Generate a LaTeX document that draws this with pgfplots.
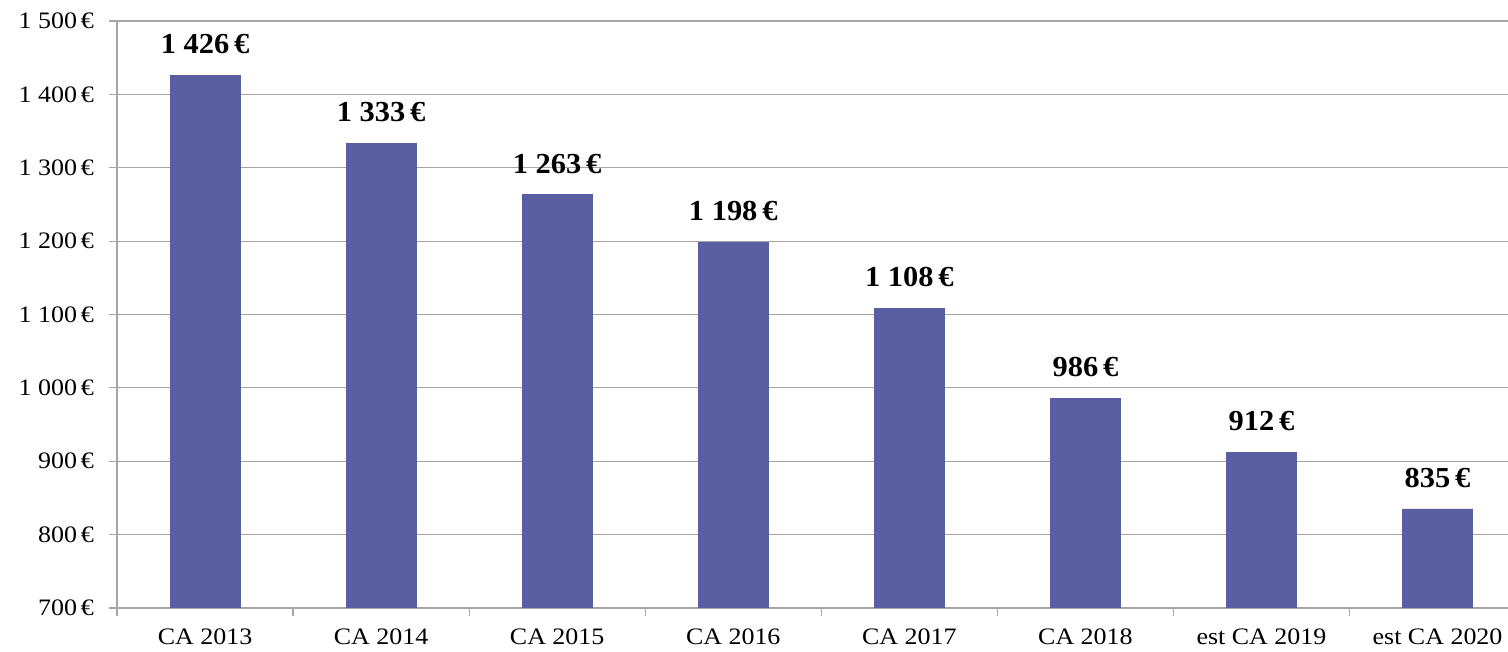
\documentclass[border=0pt]{standalone}
\usepackage{fontspec}
\setmainfont{Liberation Serif}
\newfontfamily\tickfont[FakeStretch=1.1]{Liberation Serif}
\newfontfamily\labfont[FakeStretch=1.05]{Liberation Serif}
\usepackage{pgfplots}
\pgfplotsset{compat=1.18}
\definecolor{barcol}{RGB}{89,94,160}
\definecolor{gridcol}{RGB}{165,165,172}
\begin{document}
\begin{tikzpicture}
\useasboundingbox (-58.5pt,-22pt) rectangle (695.5pt,304pt);
\begin{axis}[
  at={(0pt,0pt)}, anchor=south west,
  scale only axis, width=695.5pt, height=293.5pt,
  xmin=-0.5, xmax=7.4, ymin=700, ymax=1500,
  axis x line*=bottom, axis y line*=left,
  axis line style={draw=gridcol, line width=0.6pt},
  ytick={700,800,...,1500},
  yticklabels={700\,€,800\,€,900\,€,1 000\,€,1 100\,€,1 200\,€,1 300\,€,1 400\,€,1 500\,€},
  ymajorgrids, grid style={draw=gridcol, line width=0.6pt},
  tick align=outside, major tick length=4pt,
  tick style={draw=gridcol, line width=0.6pt},
  xtick={-0.5,0.5,...,7.5}, xticklabels={},
  extra x ticks={0,1,2,3,4,5,6,7},
  extra x tick labels={CA 2013,CA 2014,CA 2015,CA 2016,CA 2017,CA 2018,est CA 2019,est CA 2020},
  extra x tick style={major tick length=0pt, grid=none},
  ticklabel style={font=\tickfont\fontsize{11.8}{13}\selectfont},
  yticklabel style={xshift=-4pt},
  xticklabel style={yshift=-7pt},
  ybar, bar width=35pt,
  nodes near coords, point meta=explicit symbolic,
  every node near coord/.append style={font=\labfont\fontsize{14.5}{16}\selectfont\bfseries, anchor=south, inner sep=0pt, yshift=10.5pt, text=black},
]
\addplot[fill=barcol, draw=barcol] coordinates {
  (0,1426) [1 426\,€]
  (1,1333) [1 333\,€]
  (2,1263) [1 263\,€]
  (3,1198) [1 198\,€]
  (4,1108) [1 108\,€]
  (5,986) [986\,€]
  (6,912) [912\,€]
  (7,835) [835\,€]
};
\end{axis}
\end{tikzpicture}
\end{document}
